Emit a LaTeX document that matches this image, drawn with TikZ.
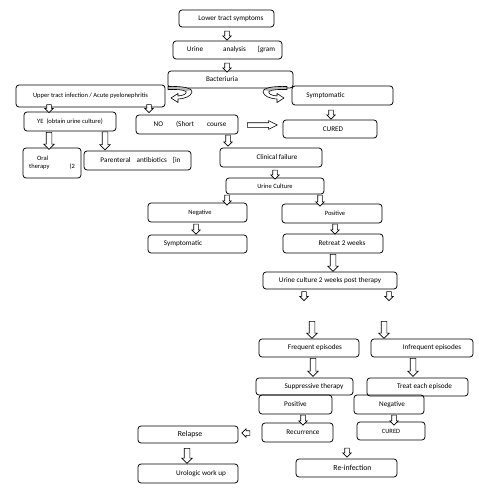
\documentclass[tikz,border=0pt]{standalone}
\usepackage{fontspec}
\setmainfont{Carlito}
\usetikzlibrary{shapes.arrows}
\newcommand\fsn{\fontsize{7.2}{8.4}\selectfont}
\newcommand\fss{\fontsize{6.5}{7.6}\selectfont}
\newcommand\fsl{\fontsize{7.8}{9}\selectfont}
\begin{document}
\begin{tikzpicture}[x=1pt,y=-1pt,
  box/.style={draw, rounded corners=3pt, line width=0.75pt, inner sep=1pt, align=center, font=\fsn},
  sz/.style 2 args={minimum width=#1pt, minimum height=#2pt},
  barrow/.style={single arrow, draw, fill=white, line width=0.6pt, inner sep=2pt,
     single arrow head extend=2pt, minimum height=#1pt},
  dn/.style={barrow=#1, rotate=-90},
  bigdn/.style={barrow=#1, rotate=-90, inner sep=2.5pt, single arrow head extend=2.5pt},
  uturn/.pic={
    \fill[white] (0,0) .. controls (14,-0.5) and (25,1.5) .. (24,5.5) .. controls (23,9.5) and (18,12) .. (10,12.5) -- (10,16) -- (3,11.5) -- (10,7) -- (10,9.5) .. controls (16,9) and (19,7) .. (18,5) .. controls (16,3) and (7,2.8) .. (0,3) -- cycle;
    \fill[gray!55] (0,0) .. controls (14,-0.5) and (23,1) .. (24,3.5) -- (18,4.5) .. controls (16,3) and (7,2.8) .. (0,3) -- cycle;
    \draw[line width=0.6pt, line join=round] (0,0) .. controls (14,-0.5) and (25,1.5) .. (24,5.5) .. controls (23,9.5) and (18,12) .. (10,12.5) -- (10,16) -- (3,11.5) -- (10,7) -- (10,9.5) .. controls (16,9) and (19,7) .. (18,5) .. controls (16,3) and (7,2.8) .. (0,3) -- cycle;
  }]
\useasboundingbox[fill=white] (0,0) rectangle (480,492);

% boxes
\node[box, sz={95}{17}] (lts) at (226.5,18.5) {\hspace*{9pt}Lower tract symptoms};
\node[box, sz={109}{18}] (ua) at (227.5,50) {\hspace*{7pt}Urine\hspace{20pt}analysis\hspace{12pt}[gram};
\node[box, sz={125}{17}] (bact) at (230.5,79.5) {Bacteriuria\hspace*{17pt}};
\node[box, sz={149}{22}, font=\fss] (upper) at (90.5,96) {Upper tract infection / Acute pyelonephritis};
\node[box, sz={101}{19}] (symp) at (342.5,95.5) {Symptomatic\hspace*{34pt}};
\node[box, sz={92}{19}, font=\fss] (ye) at (70,121.5) {YE\hspace{3pt}(obtain urine culture)};
\node[box, sz={102}{19}] (no) at (187,124.5) {\hspace*{6pt}NO\hspace{13pt}(Short\hspace{13pt}course};
\node[box, sz={94}{18}] (cured) at (330,129) {\hspace*{6pt}CURED};
\node[box, sz={58}{30}, align=left, font=\fss] (oral) at (52,163) {\hspace*{8pt}Oral\\therapy\hspace{20pt}(2};
\node[box, sz={107}{19}] (par) at (137.5,160.5) {\hspace*{6pt}Parenteral\hspace{6pt}antibiotics\hspace{6pt}[in};
\node[box, sz={102}{19}] (clin) at (271,157.5) {\hspace*{12pt}Clinical failure};
\node[box, sz={98}{16}, font=\fss] (uc) at (275,186) {Urine Culture};
\node[box, sz={99}{19}, font=\fss] (neg) at (197.5,212.5) {\hspace*{5pt}Negative};
\node[box, sz={100}{19}, font=\fss] (pos) at (332,213.5) {\hspace*{6pt}Positive};
\node[box, sz={99}{18}] (symp2) at (197.5,244) {Symptomatic\hspace*{29pt}};
\node[box, sz={100}{19}] (ret) at (333,243.5) {\hspace*{18pt}Retreat 2 weeks};
\node[box, sz={134}{17}] (uc2) at (330,280.5) {Urine culture 2 weeks post therapy};
\node[box, sz={100}{18}] (freq) at (309,348) {\hspace*{12pt}Frequent episodes};
\node[box, sz={102}{18}] (infreq) at (422,348) {\hspace*{20pt}Infrequent episodes};
\node[box, sz={97}{17}] (supp) at (304.5,386.5) {\hspace*{19pt}Suppressive therapy};
\node[box, sz={101}{18}] (treat) at (417.5,387) {\hspace*{14pt}Treat each episode};
\node[box, sz={73}{19}] (pos2) at (295.5,404.5) {Positive};
\node[box, sz={70}{19}] (neg2) at (389,404.5) {\hspace*{6pt}Negative};
\node[box, sz={71}{19}] (rec) at (297.5,432.5) {\hspace*{11pt}Recurrence};
\node[box, sz={68}{18}, font=\fss] (cured2) at (391,431) {CURED};
\node[box, sz={100}{17}, font=\fsl] (rel) at (188,434.5) {\hspace*{4pt}Relapse};
\node[box, sz={100}{19}] (uro) at (188,473.5) {\hspace*{26pt}Urologic work up};
\node[box, sz={101}{18}, font=\fsl] (reinf) at (346.5,468) {\hspace*{12pt}Re-infection};

% curved arrows from Bacteriuria
\pic at (168,86.5) {uturn};
\pic[xscale=-1] at (287,86.5) {uturn};

% block arrows
\node[dn=9] (a1) at (227,34.5) {};
\node[dn=9] (a2) at (227,66.5) {};
\node[dn=8] (a3) at (49,107.5) {};
\node[dn=8] (a4) at (149,107.5) {};
\node[dn=9] (a5) at (331,113.5) {};
\node[bigdn=17] (a6) at (49,139.5) {};
\node[bigdn=18] (a7) at (105,139.5) {};
\node[dn=11] (a8) at (228,139.5) {};
\node[barrow=30, single arrow tip angle=53] (a9) at (260,125) {};
\node[dn=9] (a10) at (275,173.5) {};
\node[dn=10] (a11) at (227,199) {};
\node[dn=11] (a12) at (320,199.5) {};
\node[dn=10] (a13) at (196,228) {};
\node[dn=10] (a14) at (335,228) {};
\node[bigdn=17] (a15) at (333,261.5) {};
\node[dn=9] (a16) at (304,295) {};
\node[dn=9] (a17) at (389,295) {};
\node[bigdn=17] (a18) at (312,328.5) {};
\node[bigdn=17] (a19) at (384,328.5) {};
\node[bigdn=18] (a20) at (313,366) {};
\node[bigdn=18] (a21) at (413,366) {};
\node[dn=10] (a22) at (303,419) {};
\node[dn=10] (a23) at (394,419) {};
\node[barrow=8, rotate=180] (a24) at (247,433) {};
\node[bigdn=15] (a25) at (187,454.5) {};
\node[dn=9] (a26) at (347,451.5) {};
\end{tikzpicture}
\end{document}
